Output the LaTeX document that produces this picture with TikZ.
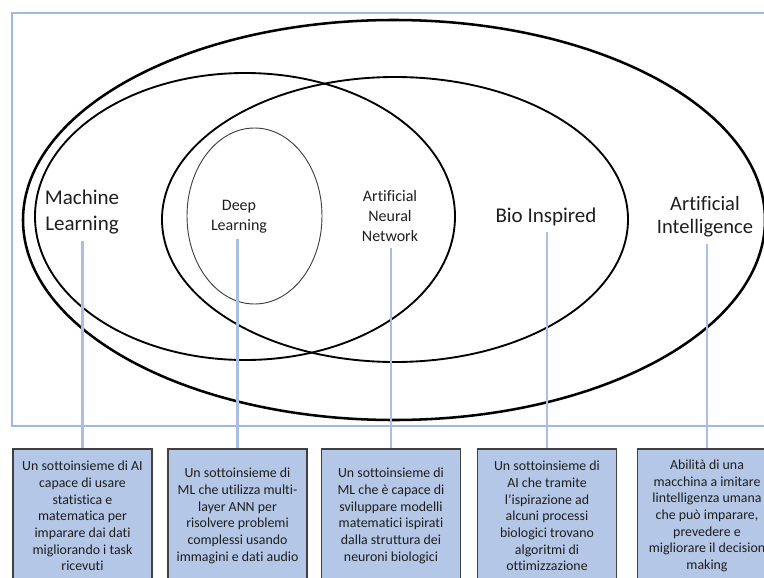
\documentclass[tikz,border=0pt]{standalone}
\usepackage{fontspec}
\setmainfont{Carlito}[Ligatures=NoCommon]
\usetikzlibrary{shapes.geometric,calc}
\definecolor{framebl}{HTML}{A0B8E0}
\definecolor{connbl}{HTML}{A9BEE3}
\definecolor{boxfill}{HTML}{B4C7E7}
\definecolor{boxline}{HTML}{404040}
\definecolor{inktext}{HTML}{1E1E1E}
\begin{document}
\begin{tikzpicture}[x=0.75pt,y=-0.75pt,
  setshape/.style={draw=black, ellipse, inner sep=0pt, fill=none},
  biglabel/.style={font=\fontsize{15.75}{19.5}\selectfont, align=center, inner sep=0pt, text=inktext},
  ailabel/.style={font=\fontsize{15.4}{17.5}\selectfont, align=center, inner sep=0pt, text=inktext},
  smalllabel/.style={font=\fontsize{12}{15}\selectfont, align=center, inner sep=0pt, text=inktext},
  infobox/.style={draw=boxline, line width=1pt, fill=boxfill, minimum width=104.25pt,
    minimum height=100.5pt, inner sep=0pt, align=center,
    font=\fontsize{10.4}{12.5}\selectfont, text=inktext},
  conn/.style={draw=connbl, line width=2.2pt}]
\useasboundingbox (0,0) rectangle (764,578);
\clip (0,0) rectangle (764,578);

% outer frame around the Venn diagram
\draw[framebl, line width=2.2pt] (12,13) rectangle (800,426);

% nested sets
\node[setshape, line width=1.9pt, minimum width=556.5pt, minimum height=300pt] (ai) at (394,220) {};
\node[setshape, line width=1.4pt, minimum width=315pt, minimum height=215.25pt] (ml) at (245,216.5) {};
\node[setshape, line width=1.4pt, minimum width=349.5pt, minimum height=213.75pt] (bio) at (395,219.5) {};
\node[setshape, draw=black!75, line width=0.7pt, minimum width=101.25pt, minimum height=132pt] (dl) at (254.5,216) {};

% set labels
\node[biglabel] (mllbl) at (82,212) {Machine\\Learning};
\node[smalllabel] (dllbl) at (239,217) {Deep\\Learning};
\node[smalllabel] (annlbl) at (390,216) {Artificial\\Neural\\Network};
\node[biglabel] (biolbl) at (546,217) {Bio Inspired};
\node[ailabel] (ailbl) at (705,216.5) {Artificial\\Intelligence};

% description boxes
\node[infobox] (mlbox) at (82.5,516) {Un sottoinsieme di AI\\capace di usare\\statistica e\\matematica per\\imparare dai dati\\migliorando i task\\ricevuti};
\node[infobox] (dlbox) at (237.5,516) {Un sottoinsieme di\\ML che utilizza multi-\\layer ANN per\\risolvere problemi\\complessi usando\\immagini e dati audio};
\node[infobox] (annbox) at (391,516) {Un sottoinsieme di\\ML che è capace di\\sviluppare modelli\\matematici ispirati\\dalla struttura dei\\neuroni biologici};
\node[infobox] (biobox) at (547,516) {Un sottoinsieme di\\AI che tramite\\l’ispirazione ad\\alcuni processi\\biologici trovano\\algoritmi di\\ottimizzazione};
\node[infobox] (aibox) at (707,516) {Abilità di una\\macchina a imitare\\lintelligenza umana\\che può imparare,\\prevedere e\\migliorare il decision\\making};

% connectors from each label down to its box
\draw[conn] ($(mlbox.north |- mllbl.south)+(0,7)$) -- (mlbox.north);
\draw[conn] ($(dlbox.north |- dllbl.south)+(0,5)$) -- (dlbox.north);
\draw[conn] ($(annbox.north |- annlbl.south)+(0,6)$) -- (annbox.north);
\draw[conn] ($(biobox.north |- biolbl.south)+(0,5.5)$) -- (biobox.north);
\draw[conn] ($(aibox.north |- ailbl.south)+(0,7)$) -- (aibox.north);
\end{tikzpicture}
\end{document}
